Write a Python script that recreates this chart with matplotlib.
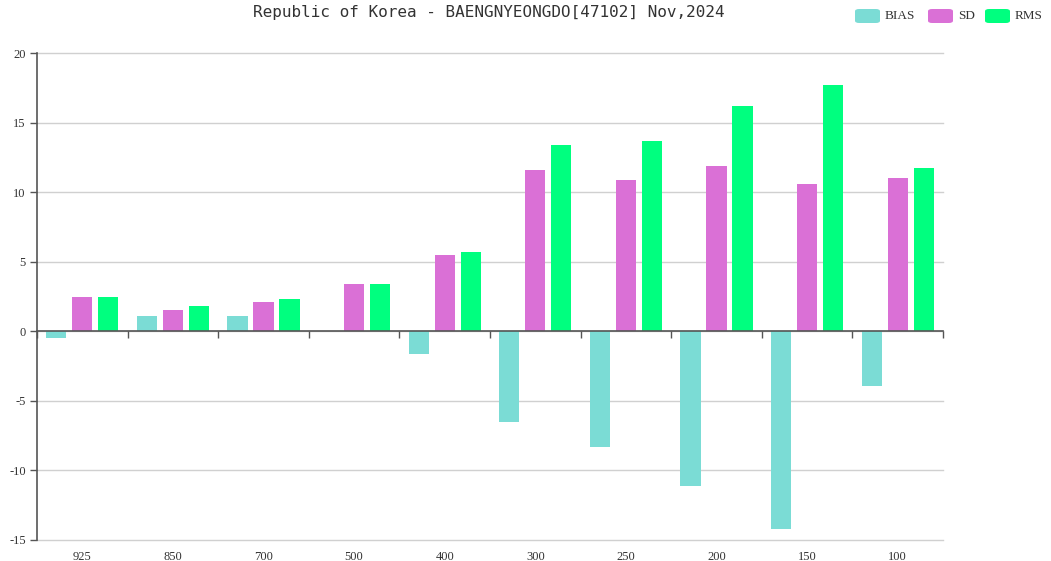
import matplotlib
matplotlib.use("Agg")
import matplotlib.pyplot as plt
from matplotlib.patches import FancyBboxPatch
import numpy as np

plt.rcParams["axes.unicode_minus"] = False

categories = ["925", "850", "700", "500", "400", "300", "250", "200", "150", "100"]
bias = [-0.5, 1.1, 1.1, 0.05, -1.6, -6.5, -8.3, -11.1, -14.2, -3.9]
sd = [2.5, 1.5, 2.1, 3.4, 5.5, 11.6, 10.9, 11.9, 10.6, 11.0]
rms = [2.5, 1.8, 2.3, 3.4, 5.7, 13.4, 13.7, 16.2, 17.7, 11.7]
title = "Republic of Korea - BAENGNYEONGDO[47102] Nov,2024"
series_names = ["BIAS", "SD", "RMS"]
colors = ["#7BDCD5", "#DA70D6", "#00FF7F"]

W, H = 1051, 561
fig = plt.figure(figsize=(W / 100, H / 100), dpi=100)
ax = fig.add_axes([37 / W, 1 - 540 / H, (943 - 37) / W, (540 - 53) / H])

n = len(categories)
x = np.arange(n)
bw = 0.225
offs = [-0.287, 0.0, 0.287]
for vals, c, o, name in zip([bias, sd, rms], colors, offs, series_names):
    ax.bar(x + o, vals, width=bw, color=c, edgecolor="none", zorder=3, label=name)

ax.set_xlim(-0.5, n - 0.5)
ax.set_ylim(-15, 20)
ax.set_yticks(np.arange(-15, 21, 5))
for yv in np.arange(-15, 21, 5):
    ax.axhline(yv, color="#d0d0d0", linewidth=1, zorder=0, clip_on=False)

for s in ["top", "right", "bottom"]:
    ax.spines[s].set_visible(False)
ax.spines["left"].set_color("#555555")
ax.spines["left"].set_linewidth(1.2)
ax.tick_params(axis="y", length=5, width=1, color="#555555", labelsize=9, labelcolor="#333333", pad=3)
ax.set_xticks(x)
ax.set_xticklabels(categories, fontsize=9, color="#333333", fontfamily="Liberation Serif")
ax.tick_params(axis="x", length=0, pad=8)
for lab in ax.get_yticklabels():
    lab.set_fontfamily("Liberation Serif")

# zero axis line with boundary ticks
sec = ax.secondary_xaxis(0, transform=ax.transData)
sec.set_zorder(5)
sec.spines["bottom"].set_color("#555555")
sec.spines["bottom"].set_linewidth(1.2)
sec.set_xticks(np.arange(-0.5, n, 1.0))
sec.set_xticklabels([])
sec.tick_params(axis="x", length=5, width=1, color="#555555", direction="out")

fig.text(489 / W, 1 - 13 / H, title, ha="center", va="center", fontsize=11.5,
         family="DejaVu Sans Mono", color="#333333")

# legend
leg_x = [855, 928, 985]
for lx, name, c in zip(leg_x, series_names, colors):
    p = FancyBboxPatch((lx / W, 1 - 23 / H), 25 / W, 14 / H,
                       boxstyle="round,pad=0,rounding_size=0.004", transform=fig.transFigure,
                       facecolor=c, edgecolor="none")
    fig.patches.append(p)
    fig.text((lx + 30) / W, 1 - 16 / H, name, ha="left", va="center", fontsize=9.5,
             family="Liberation Serif", color="#333333")

fig.savefig("out.png", dpi=100)
